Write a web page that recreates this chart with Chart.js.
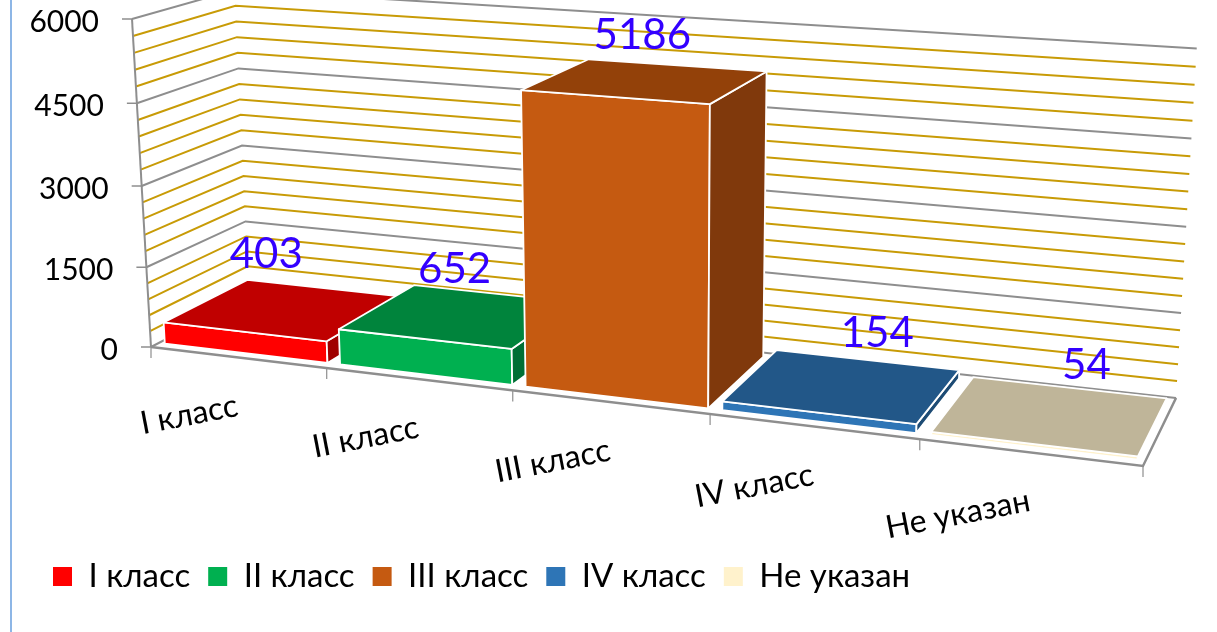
<!DOCTYPE html>
<html><head><meta charset="utf-8">
<style>html,body{margin:0;padding:0;background:#fff;overflow:hidden}
#wrap{position:relative;width:1217px;height:632px}
#edge{position:absolute;left:10px;top:0;width:2px;height:632px;background:#8DB6E6}
canvas{position:absolute;left:0;top:0}</style>
<script src="https://cdn.jsdelivr.net/npm/chart.js@4/dist/chart.umd.min.js"></script>
</head><body><div id="wrap"><canvas id="c" width="1217" height="632"></canvas><div id="edge"></div></div>
<script>
const categories = ['I класс','II класс','III класс','IV класс','Не указан'];
const counts = [403,652,5186,154,54];
const axisMax = 6000, minorStep = 300, majorStep = 1500;

const frontColors = ['#FF0000','#00B050','#C55A11','#2E75B6','#FFF2CC'];
const topColors   = ['#C00000','#00843C','#934109','#225788','#BFB599'];
const sideColors  = ['#A00000','#006F35','#80390C','#1D4B74','#CCC2A3'];
const font = 'Lato, Carlito, sans-serif';
const labelColor = '#3300FF';
const labelNudge = [[-19,-55],[-6,-46],[-4,-45],[34,-52],[35,-49]];

// projective camera of the 3D box: unit cube (u across, v up, d into the page)
const cam = {o:[151,347],u:[1143,466],v:[132,19],d:[249,296],a:-0.139,b:-0.036,c:0.075};
function project(u,v,d){
  const w = 1+cam.a*u+cam.b*v+cam.c*d;
  const f = i => (cam.o[i]
    + (cam.u[i]*(1+cam.a)-cam.o[i])*u
    + (cam.v[i]*(1+cam.b)-cam.o[i])*v
    + (cam.d[i]*(1+cam.c)-cam.o[i])*d)/w;
  return [f(0),f(1)];
}
const depthFront = 0.075, depthBack = 0.93;
function poly(ctx,pts,fill,stroke,lw){
  ctx.beginPath();
  pts.forEach((p,i)=> i?ctx.lineTo(p[0],p[1]):ctx.moveTo(p[0],p[1]));
  ctx.closePath();
  ctx.fillStyle=fill;ctx.fill();
  if(stroke){ctx.strokeStyle=stroke;ctx.lineWidth=lw;ctx.lineJoin='round';ctx.stroke();}
}
function line(ctx,pts,color,lw){
  ctx.beginPath();
  pts.forEach((p,i)=> i?ctx.lineTo(p[0],p[1]):ctx.moveTo(p[0],p[1]));
  ctx.strokeStyle=color;ctx.lineWidth=lw;ctx.lineJoin='miter';ctx.stroke();
}
const box3d = {
  id:'box3d',
  beforeDatasetsDraw(chart){
    const ctx=chart.ctx, ys=chart.scales.y, xs=chart.scales.x;
    const grey='#8E8E8E', gold='#C89B06';
    const vOf = val => (ys.getPixelForValue(0)-ys.getPixelForValue(val))/(ys.getPixelForValue(0)-ys.getPixelForValue(axisMax));
    ctx.save();
    ys.ticks.slice().sort((a,b)=>b.value-a.value).forEach(t=>{
      const v=vOf(t.value), major=t.value%majorStep===0;
      line(ctx,[project(0,v,0),project(0,v,1),project(1,v,1)],major?grey:gold,2);
      if(major){
        const p=project(0,v,0);
        line(ctx,[[p[0]-10,p[1]],p],grey,1.5);
        ctx.font='30px '+font;ctx.fillStyle='#000';ctx.textAlign='right';ctx.textBaseline='middle';
        ctx.fillText(String(t.value),p[0]-33,p[1]+3);
      }
    });
    line(ctx,[project(0,1,0),project(0,0,0)],grey,2);
    line(ctx,[project(0,0,0),project(1,0,0),project(1,0,1)],grey,2.4);
    for(let i=0;i<=categories.length;i++){
      const p=project(i/categories.length,0,0);
      line(ctx,[p,[p[0],p[1]+11]],grey,1.2);
    }
    categories.forEach((c,i)=>{
      const u=(xs.getPixelForValue(i)-xs.left)/xs.width;
      const p=project(u,0,0);
      ctx.save();ctx.translate(p[0],p[1]+48);ctx.rotate(-11*Math.PI/180);
      ctx.font='32px '+font;ctx.fillStyle='#000';ctx.textAlign='right';ctx.textBaseline='middle';
      ctx.fillText(c,0,0);ctx.restore();
    });
    ctx.restore();
  },
  beforeDatasetDraw(chart,args){
    const ctx=chart.ctx, xs=chart.scales.x, ys=chart.scales.y;
    const meta=chart.getDatasetMeta(args.index);
    const y0=ys.getPixelForValue(0), yM=ys.getPixelForValue(axisMax);
    ctx.save();
    meta.data.forEach((el,i)=>{
      const u0=(el.x-el.width/2-xs.left)/xs.width, u1=(el.x+el.width/2-xs.left)/xs.width;
      const v=(y0-el.y)/(y0-yM), df=depthFront, db=depthBack;
      const white='#FFFFFF';
      poly(ctx,[project(u0,0,df),project(u1,0,df),project(u1,v,df),project(u0,v,df)],frontColors[i],white,1.8);
      poly(ctx,[project(u1,0,df),project(u1,0,db),project(u1,v,db),project(u1,v,df)],sideColors[i],white,1.8);
      poly(ctx,[project(u0,v,df),project(u1,v,df),project(u1,v,db),project(u0,v,db)],topColors[i],white,1.8);
    });
    ctx.restore();
    return false;
  },
  afterDatasetsDraw(chart){
    const ctx=chart.ctx, xs=chart.scales.x, ys=chart.scales.y;
    const meta=chart.getDatasetMeta(0);
    const y0=ys.getPixelForValue(0), yM=ys.getPixelForValue(axisMax);
    ctx.save();
    ctx.font='42px '+font;ctx.fillStyle=labelColor;ctx.textAlign='center';ctx.textBaseline='middle';
    meta.data.forEach((el,i)=>{
      const u=(el.x-xs.left)/xs.width, v=(y0-el.y)/(y0-yM);
      const p=project(u,v,(depthFront+depthBack)/2);
      ctx.fillText(String(counts[i]),p[0]+labelNudge[i][0],p[1]+labelNudge[i][1]);
    });
    ctx.restore();
  }
};
new Chart(document.getElementById('c'),{
  type:'bar',
  data:{labels:categories,datasets:[{label:'Количество',data:counts,backgroundColor:frontColors,categoryPercentage:0.93,barPercentage:1}]},
  plugins:[box3d],
  options:{
    responsive:false,animation:false,
    layout:{padding:{left:35,right:20,top:10,bottom:29}},
    scales:{
      x:{ticks:{display:false},grid:{display:false},border:{display:false}},
      y:{min:0,max:axisMax,ticks:{display:false,stepSize:minorStep},grid:{display:false},border:{display:false}}
    },
    plugins:{
      tooltip:{enabled:false},
      legend:{position:'bottom',align:'start',onClick:null,
        labels:{boxWidth:19,boxHeight:19,padding:18,color:'#000',font:{family:font,size:33},
          generateLabels:()=>categories.map((c,i)=>({text:c,fillStyle:frontColors[i],strokeStyle:frontColors[i],lineWidth:0,index:i,hidden:false}))}}
    }
  }
});
</script></body></html>
